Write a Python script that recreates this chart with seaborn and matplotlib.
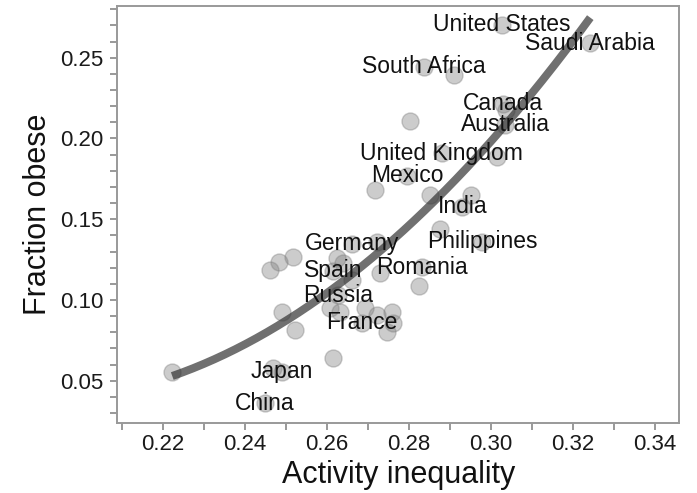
import matplotlib
matplotlib.use("Agg")
import matplotlib.pyplot as plt
from matplotlib.ticker import MultipleLocator
import numpy as np
import pandas as pd
import seaborn as sns

# ---- data ----
labeled_names = ["United States", "Saudi Arabia", "South Africa", "Canada", "Australia",
                 "United Kingdom", "Mexico", "India", "Philippines", "Romania",
                 "Germany", "Spain", "Russia", "France", "Japan", "China"]
labeled_x = [0.3026, 0.3242, 0.2837, 0.3030, 0.3035,
             0.2880, 0.2795, 0.2930, 0.2978, 0.2831,
             0.2661, 0.2615, 0.2628, 0.2685, 0.2490, 0.2449]
labeled_y = [0.2703, 0.2591, 0.2443, 0.2214, 0.2084,
             0.1908, 0.1768, 0.1576, 0.1361, 0.1204,
             0.1347, 0.1180, 0.1031, 0.0858, 0.0556, 0.0362]

other_x = [0.2223, 0.2462, 0.2484, 0.2517, 0.2490, 0.2523, 0.2615, 0.2468,
           0.2722, 0.2624, 0.2640, 0.2661, 0.2730,
           0.2632, 0.2608, 0.2694, 0.2722, 0.2758, 0.2762, 0.2746,
           0.2825, 0.2876, 0.2852, 0.2952, 0.2718, 0.3014, 0.2803, 0.2910, 0.3036]
other_y = [0.0554, 0.1186, 0.1237, 0.1268, 0.0928, 0.0814, 0.0641, 0.0577,
           0.1361, 0.1258, 0.1227, 0.1124, 0.1167,
           0.0928, 0.0949, 0.0950, 0.0907, 0.0928, 0.0856, 0.0804,
           0.1087, 0.1440, 0.1650, 0.1650, 0.1681, 0.1887, 0.2108, 0.2393, 0.2176]

x_label = "Activity inequality"
y_label = "Fraction obese"

df = pd.DataFrame({
    "x": labeled_x + other_x,
    "y": labeled_y + other_y,
    "country": labeled_names + [""] * len(other_x),
})


def lowess_curve(x, y, frac=2.0 / 3.0, n_grid=200):
    """Nearest-neighbour LOWESS (local linear, tricube), then lightly smoothed."""
    x = np.asarray(x)
    y = np.asarray(y)
    n = len(x)
    k = int(np.ceil(frac * n))
    grid = np.linspace(x.min(), x.max(), n_grid)
    out = np.empty(n_grid)
    for j, g in enumerate(grid):
        d = np.abs(x - g)
        h = np.sort(d)[k - 1]
        w = np.clip(1 - (d / h) ** 3, 0, None) ** 3
        sw = w.sum()
        xm = (w * x).sum() / sw
        ym = (w * y).sum() / sw
        sxx = (w * (x - xm) ** 2).sum()
        b = (w * (x - xm) * (y - ym)).sum() / sxx
        out[j] = ym + b * (g - xm)
    # smooth out neighbourhood-switch kinks with a low-order polynomial
    out = np.polyval(np.polyfit(grid, out, 2), grid)
    return grid, out


sns.set_theme(style="ticks")
plt.rcParams["font.family"] = ["Liberation Sans", "DejaVu Sans"]

fig = plt.figure(figsize=(6.97, 4.93), dpi=100)
ax = fig.add_axes([0.1683, 0.1414, 0.8063, 0.8464])

sns.scatterplot(data=df, x="x", y="y", ax=ax, s=150, color="#808080", alpha=0.4,
                edgecolor="#808080", linewidth=1.0, zorder=2, legend=False)

fx, fy = lowess_curve(df["x"].to_numpy(), df["y"].to_numpy())
sns.lineplot(x=fx, y=fy, ax=ax, color="#333333", alpha=0.7, lw=5.8, sort=True,
             estimator=None, solid_capstyle="butt", zorder=3)

for name, xv, yv in zip(labeled_names, labeled_x, labeled_y):
    ax.text(xv, yv, name, ha="center", va="center", fontsize=16.5,
            color="#111111", zorder=4)

ax.set_xlim(0.2089, 0.3459)
ax.set_ylim(0.0237, 0.282)
ax.xaxis.set_major_locator(MultipleLocator(0.02))
ax.xaxis.set_minor_locator(MultipleLocator(0.01))
ax.yaxis.set_major_locator(MultipleLocator(0.05))
ax.yaxis.set_minor_locator(MultipleLocator(0.01))
ax.xaxis.set_major_formatter(plt.FuncFormatter(lambda v, p: f"{v:.2f}"))
ax.yaxis.set_major_formatter(plt.FuncFormatter(lambda v, p: f"{v:.2f}"))

for sp in ax.spines.values():
    sp.set_visible(True)
    sp.set_color("#999999")
    sp.set_linewidth(1.4)

ax.tick_params(axis="both", which="both", direction="out", length=5, width=1.2,
               color="#888888", labelcolor="#1a1a1a", labelsize=16)
ax.tick_params(axis="x", which="both", pad=3)
ax.tick_params(axis="y", which="both", pad=5)

ax.set_xlabel(x_label, fontsize=22, color="#111111", labelpad=3)
ax.set_ylabel(y_label, fontsize=22, color="#111111", labelpad=5)

fig.savefig("out.png", dpi=100)
